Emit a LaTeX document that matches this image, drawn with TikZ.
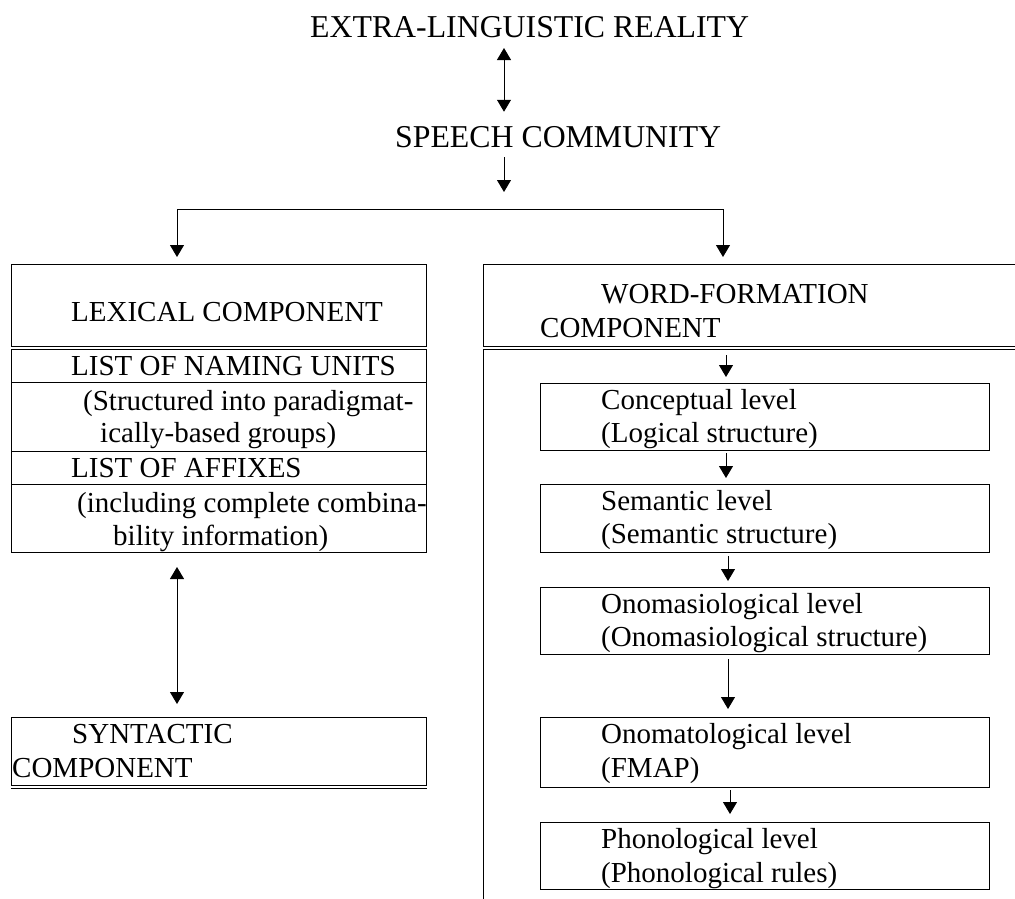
\documentclass[tikz,border=0pt]{standalone}
\usepackage{fontspec}
\setmainfont{Liberation Serif}
\usetikzlibrary{arrows.meta}
\begin{document}
\begin{tikzpicture}[x=1pt,y=-1pt,
  box/.style={draw, line width=1pt, inner sep=0pt, outer sep=0pt, anchor=north west},
  rule/.style={line width=1pt},
  txt/.style={anchor=base west, inner sep=0pt, font=\fontsize{29}{33}\selectfont},
  big/.style={anchor=base west, inner sep=0pt, font=\fontsize{31.8}{36}\selectfont},
  conn/.style={line width=0.9pt},
  arr/.style={line width=0.9pt, -{Triangle[width=14pt,length=12pt]}},
  darr/.style={line width=0.9pt, {Triangle[width=14pt,length=12pt]}-{Triangle[width=14pt,length=12pt]}}]
\useasboundingbox[fill=white] (0,0) rectangle (1015,898);

% top texts
\node[big] (ext) at (310,37) {EXTRA-LINGUISTIC REALITY};
\node[big] (speech) at (395,147) {SPEECH COMMUNITY};

% boxes, left column
\node[box, minimum width=415pt, minimum height=82pt] (lexA) at (11,264) {};
\node[box, minimum width=415pt, minimum height=203pt] (lexB) at (11,349) {};
\draw[rule] (11,382) -- (426,382);
\draw[rule] (11,451) -- (426,451);
\draw[rule] (11,484) -- (426,484);
\node[box, minimum width=415pt, minimum height=68pt] (syn) at (11,717) {};
\draw[rule] (11,788) -- (427,788);

% boxes, right column
\node[box, minimum width=560pt, minimum height=82pt] (wfA) at (483,264) {};
\draw[rule] (1040,349) -- (483,349) -- (483,900);
\node[box, minimum width=449pt, minimum height=67pt] (conc) at (540,383) {};
\node[box, minimum width=449pt, minimum height=68pt] (sem) at (540,484) {};
\node[box, minimum width=449pt, minimum height=67pt] (onom) at (540,587) {};
\node[box, minimum width=449pt, minimum height=70pt] (onomat) at (540,717) {};
\node[box, minimum width=449pt, minimum height=67pt] (phon) at (540,822) {};

% texts, left column
\node[txt] (lexT) at (71,321) {LEXICAL COMPONENT};
\node[txt] (nam) at (71,375) {LIST OF NAMING UNITS};
\node[txt] (str1) at (83,410) {(Structured into paradigmat-};
\node[txt] (str2) at (100,442) {ically-based groups)};
\node[txt] (aff) at (71,477) {LIST OF AFFIXES};
\node[txt] (inc1) at (77,512) {(including complete combina-};
\node[txt] (inc2) at (113,545) {bility information)};
\node[txt] (syn1) at (72,743) {SYNTACTIC};
\node[txt] (syn2) at (12,777) {COMPONENT};

% texts, right column
\node[txt] (wf1) at (601,303) {WORD-FORMATION};
\node[txt] (wf2) at (540,337) {COMPONENT};
\node[txt] (conc1) at (601,409) {Conceptual level};
\node[txt] (conc2) at (601,442) {(Logical structure)};
\node[txt] (sem1) at (601,510) {Semantic level};
\node[txt] (sem2) at (601,543) {(Semantic structure)};
\node[txt] (onom1) at (601,613) {Onomasiological level};
\node[txt] (onom2) at (601,646) {(Onomasiological structure)};
\node[txt] (onomat1) at (601,743) {Onomatological level};
\node[txt] (onomat2) at (601,777) {(FMAP)};
\node[txt] (phon1) at (601,848) {Phonological level};
\node[txt] (phon2) at (601,882) {(Phonological rules)};

% helper coordinates
\coordinate (ax) at (504,0);
\coordinate (hl) at (177,209);
\coordinate (hr) at (723,209);
\coordinate (wfBtop) at (726,349);
\coordinate (a2) at (726,0);
\coordinate (a3) at (728,0);
\coordinate (a4) at (728,0);
\coordinate (a5) at (730,0);

% connectors
\draw[darr, shorten <=11pt, shorten >=14pt] (ext.base -| ax) -- (speech.north -| ax);
\draw[arr, shorten <=10pt, shorten >=17pt] (speech.base -| ax) -- (hl -| ax);
\draw[conn] (hl) -- (hr);
\draw[arr, shorten >=7pt] (hl) -- (lexA.north -| hl);
\draw[arr, shorten >=7pt] (hr) -- (wfA.north -| hr);
\draw[darr, shorten <=15pt, shorten >=13pt] (lexB.south -| hl) -- (syn.north -| hl);
\draw[arr, shorten <=6pt, shorten >=6pt] (wfBtop) -- (conc.north -| wfBtop);
\draw[arr, shorten <=3pt, shorten >=6pt] (conc.south -| a2) -- (sem.north -| a2);
\draw[arr, shorten <=4pt, shorten >=6pt] (sem.south -| a3) -- (onom.north -| a3);
\draw[arr, shorten <=5pt, shorten >=8pt] (onom.south -| a4) -- (onomat.north -| a4);
\draw[arr, shorten <=3pt, shorten >=8pt] (onomat.south -| a5) -- (phon.north -| a5);
\end{tikzpicture}
\end{document}
